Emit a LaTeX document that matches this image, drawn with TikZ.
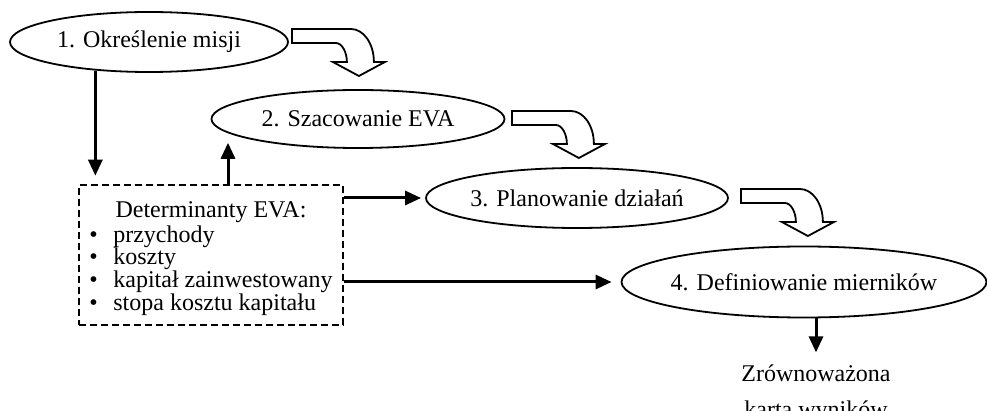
\documentclass[tikz,border=0pt]{standalone}
\usepackage{fontspec}
\setmainfont{Liberation Serif}
\usetikzlibrary{shapes.geometric,arrows.meta,positioning}

\tikzset{
  etap/.style={ellipse, draw, line width=0.9pt, inner xsep=-3pt, inner ysep=0pt},
  conn/.style={-{Triangle[length=8pt,width=7pt]}, line width=1.5pt},
  detbox/.style={draw, dash pattern=on 3.5pt off 2pt, line width=1.3pt,
    minimum width=132pt, minimum height=70pt, inner sep=0pt,
    font=\fontsize{12}{10}\selectfont},
  blockarrow/.style={draw, line width=0.9pt, fill=white, line join=miter},
  bendarrow/.pic={
    \draw[blockarrow] (0,0) -- (59,0) .. controls (72,0) and (82,15) .. (82,33)
      -- (93,33) -- (67,47) -- (41,33) -- (55,33)
      .. controls (55,23) and (50,14) .. (44,14) -- (0,14) -- cycle;
  }
}

\begin{document}
\begin{tikzpicture}[x=0.5pt, y=-0.5pt, font=\fontsize{12}{11}\selectfont]
\useasboundingbox (0,0) rectangle (987,411);

% etapy
\node[etap, minimum width=139pt, minimum height=30pt] (e1) at (149,42) {1. Określenie misji};
\node[etap, minimum width=146.5pt, minimum height=29pt] (e2) at (358,119) {2. Szacowanie EVA};
\node[etap, minimum width=151pt, minimum height=30pt] (e3) at (577,198) {3. Planowanie działań};
\node[etap, minimum width=182.5pt, minimum height=35.5pt] (e4) at (804,282) {4. Definiowanie mierników};

% determinanty
\node[detbox] (det) at (211,255) {\begin{tabular}{@{}p{12pt}@{}l@{}}
  \multicolumn{2}{c}{\rule{0pt}{12pt}Determinanty EVA:}\\[1pt]
  \textbullet & przychody\\
  \textbullet & koszty\\
  \textbullet & kapitał zainwestowany\\
  \textbullet & stopa kosztu kapitału
\end{tabular}};

\node[below=23pt of e4, xshift=6pt, align=center, inner sep=0pt,
  font=\fontsize{12}{18}\selectfont] (bsc) {Zrównoważona\\karta wyników};

% strzalki miedzy etapami
\pic at ([shift={(3,-13)}]e1.east) {bendarrow};
\pic at ([shift={(6.5,-8)}]e2.east) {bendarrow};
\pic at ([shift={(12,-9)}]e3.east) {bendarrow};

% polaczenia
\draw[conn, shorten >=4pt] (e1.208) -- (e1.208 |- det.north);
\draw[conn, shorten >=5pt] ([xshift=8.5pt]det.north) -- ([xshift=8.5pt]det.north |- e2.186);
\draw[conn, shorten >=2pt] (e3.west -| det.east) -- (e3.west);
\draw[conn, shorten >=4.5pt] (e4.west -| det.east) -- (e4.west);
\draw[conn, shorten >=6pt] (e4.south -| bsc.north) -- (bsc.north);
\end{tikzpicture}
\end{document}
